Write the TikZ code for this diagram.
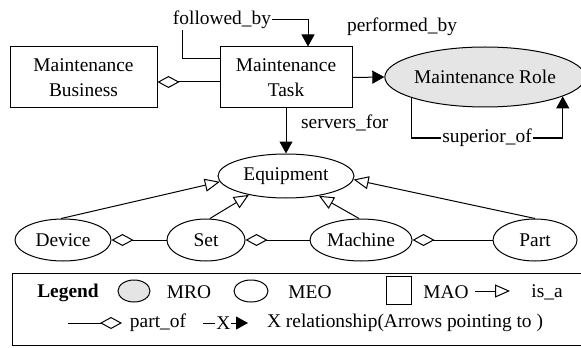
\documentclass[tikz,border=0pt]{standalone}
\usepackage{fontspec}
\setmainfont{Liberation Serif}
\usetikzlibrary{arrows.meta,shapes.geometric,calc}

\begin{document}
\begin{tikzpicture}[x = 0.5pt, y = -0.5pt, line width = 0.5pt,
    font = \fontsize{9.7}{12.5}\selectfont,
    box/.style = {draw, rectangle, align = center, inner sep = 0pt},
    ent/.style = {draw, ellipse, inner sep = 0pt},
    mro/.style = {ent, fill = gray!20},
    isa/.style = {-{Triangle[open, length = 7.5pt, width = 6.5pt]}},
    partof/.style = {-{Diamond[open, length = 11pt, width = 6pt]}},
    rel/.style = {-{Triangle[length = 6pt, width = 6.5pt]}},
    lbl/.style = {fill = white, inner sep = 0.5pt}]
    \useasboundingbox (0,0) rectangle (581,347);
    \clip (0,0) rectangle (581,347);
    \node[box, minimum width = 73.5pt, minimum height = 30.5pt] (bus) at (83.5,77.5) {Maintenance\\Business};
    \node[box, minimum width = 66pt, minimum height = 30.5pt] (task) at (286,77.5) {Maintenance\\Task};
    \node[mro, minimum width = 95pt, minimum height = 30pt] (role) at (485,77) {Maintenance Role};
    \node[ent, minimum width = 68pt, minimum height = 22pt] (equip) at (286,176) {Equipment};
    \node[ent, minimum width = 48pt, minimum height = 21pt] (device) at (63,240) {Device};
    \node[ent, minimum width = 39pt, minimum height = 21pt] (set) at (206,240) {Set};
    \node[ent, minimum width = 51pt, minimum height = 21pt] (machine) at (361,240) {Machine};
    \node[ent, minimum width = 42pt, minimum height = 21pt] (part) at (535,240) {Part};
    % part_of
    \draw[partof] ($(task.west)+(0,4.5)$) -- ($(bus.east)+(0,4.5)$);
    \draw[partof] (set.west) -- (device.east);
    \draw[partof] (machine.west) -- (set.east);
    \draw[partof] (part.west) -- (machine.east);
    % is_a
    \draw[isa] (device.95) -- (equip.185);
    \draw[isa] (set.80) -- (equip.207);
    \draw[isa] (machine.95) -- (equip.329);
    \draw[isa] (part.north) -- (equip.357);
    % relationships
    \draw[rel] (task.east) -- (role.west);
    \node (pb) at (402,27) {performed\_by};
    \draw[rel] (task) -- node[pos = 0.33, right = 4pt] {servers\_for} (equip);
    \coordinate (fbl) at (182,20);
    \coordinate (fbr) at (308,20);
    \draw[rel] ($(task.north west)+(0,12)$) -| (fbl) -- (fbr) -- (fbr |- task.north);
    \node[lbl] (fb) at (222,20) {followed\_by};
    \coordinate (supc) at (487,138);
    \draw[rel] (role.196.6) |- (supc) -| (role.346.2);
    \node[lbl] (sup) at (supc) {superior\_of};
    % legend
    \draw (12,273) rectangle (600,345.5);
    \node[font = \fontsize{9.7}{12.5}\selectfont\bfseries] (leg) at (68,293) {Legend};
    \node[mro, minimum width = 16pt, minimum height = 11pt] (kmro) at (134,291) {};
    \node (tmro) at (189,292) {MRO};
    \node[ent, minimum width = 17pt, minimum height = 11pt] (kmeo) at (251,291) {};
    \node (tmeo) at (310,292) {MEO};
    \node[box, minimum width = 12.5pt, minimum height = 14pt] (kmao) at (399,290) {};
    \node (tmao) at (446,292) {MAO};
    \coordinate (isa1) at (475,291);
    \coordinate (isa2) at (510,291);
    \draw[isa] (isa1) -- (isa2);
    \node (tisa) at (547,292) {is\_a};
    \coordinate (po1) at (68,323);
    \coordinate (po2) at (122,323);
    \draw[partof] (po1) -- (po2);
    \node (tpo) at (158,323) {part\_of};
    \coordinate (x1) at (203,323);
    \coordinate (x2) at (248,323);
    \draw[rel] (x1) -- node[lbl, pos = 0.45] {X} (x2);
    \node (trel) at (405,323) {X relationship(Arrows pointing to )};
\end{tikzpicture}
\end{document}
